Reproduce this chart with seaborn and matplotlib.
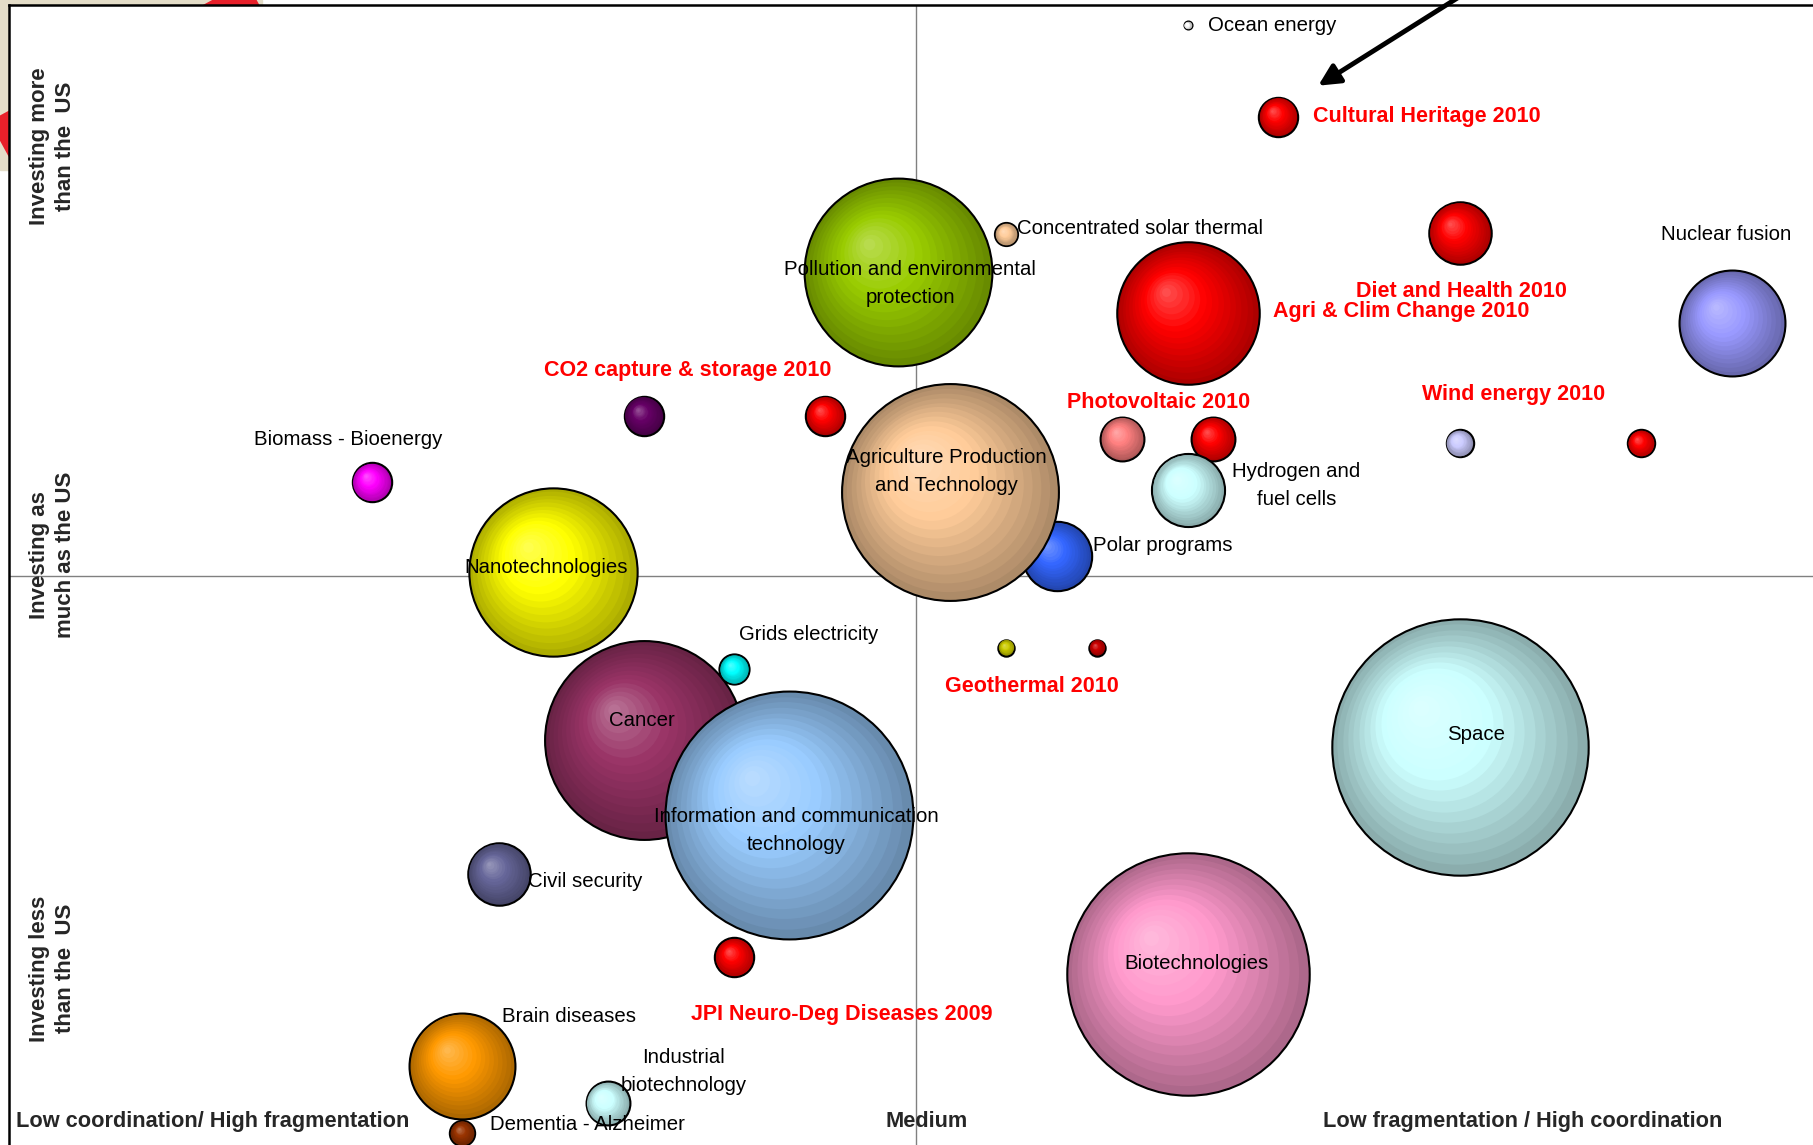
import numpy as np
import pandas as pd
import seaborn as sns
import matplotlib.pyplot as plt
from matplotlib.colors import to_rgb
from matplotlib.lines import Line2D
from matplotlib.patches import Rectangle
from matplotlib.transforms import ScaledTranslation

sns.set_style('white')
plt.rcParams['font.family'] = ['Liberation Sans', 'DejaVu Sans']

# bubbles, in drawing order (later ones sit on top)
names = ["Ocean energy", "Cultural Heritage", "Pollution", "Concentrated solar",
         "Agri & Clim", "Diet and Health", "Nuclear fusion", "CO2 purple", "CO2 red",
         "Biomass", "Polar programs", "Agri Production", "PV salmon", "PV red",
         "Hydrogen", "Wind lavender", "Wind red", "Cancer", "Nanotechnologies",
         "Grids", "ICT", "Geo yellow", "Geo red", "Space", "Civil security",
         "JPI Neuro", "Biotechnologies", "Brain diseases", "Industrial biotech",
         "Dementia"]
coordination = [65, 70, 49, 55, 65, 80, 95, 35, 45, 20, 57.8, 51.9, 61.4, 66.4,
                65, 80, 90, 35, 30, 40, 43, 55, 60, 80, 27, 40, 65, 25, 33, 25]
investment = [98.2, 90.2, 76.6, 79.9, 73.0, 80.0, 72.1, 64.0, 64.0, 58.2, 51.7, 57.3,
              62.0, 62.0, 57.5, 61.6, 61.6, 35.6, 50.3, 41.8, 29.0, 43.7, 43.7, 35.0,
              23.9, 16.6, 15.1, 7.1, 3.8, 1.2]
budget = [0.12, 2.9, 66, 1.0, 38, 7.3, 21, 2.9, 2.9, 2.9, 9, 88, 3.6, 3.6, 10, 1.4,
          1.4, 74, 53, 1.7, 115, 0.5, 0.5, 123, 7.3, 2.9, 110, 21, 3.6, 1.2]
colors = ["#FFFFFF", "#FF0000", "#99CC00", "#FFCC99", "#FF0000", "#FF0000", "#9999FF",
          "#660066", "#FF0000", "#FF00FF", "#3366FF", "#FFCC99", "#FF8080", "#FF0000",
          "#CCFFFF", "#CCCCFF", "#FF0000", "#993366", "#FFFF00", "#00FFFF", "#99CCFF",
          "#CCCC00", "#CC0000", "#CCFFFF", "#666699", "#FF0000", "#FF99CC", "#FF9900",
          "#CCFFFF", "#993300"]

df = pd.DataFrame({"name": names, "x": coordination, "y": investment,
                   "budget": budget, "color": colors})

# labels: text, x, y, alignment, red/bold
labels = [
    ("Ocean energy", 66.1, 98.2, "left", False),
    ("Cultural Heritage 2010", 71.9, 90.2, "left", True),
    ("Pollution and environmental\nprotection", 49.7, 75.6, "center", False),
    ("Concentrated solar thermal", 55.6, 80.4, "left", False),
    ("Diet and Health 2010", 80.1, 74.9, "center", True),
    ("Agri & Clim Change 2010", 76.8, 73.1, "center", True),
    ("Nuclear fusion", 94.7, 79.9, "center", False),
    ("CO2 capture & storage 2010", 37.4, 68.0, "center", True),
    ("Photovoltaic 2010", 63.4, 65.2, "center", True),
    ("Wind energy 2010", 83.0, 65.9, "center", True),
    ("Biomass - Bioenergy", 18.7, 61.9, "center", False),
    ("Agriculture Production\nand Technology", 51.7, 59.1, "center", False),
    ("Hydrogen and\nfuel cells", 71.0, 57.9, "center", False),
    ("Polar programs", 59.8, 52.6, "left", False),
    ("Nanotechnologies", 29.6, 50.7, "center", False),
    ("Grids electricity", 44.1, 44.8, "center", False),
    ("Geothermal 2010", 56.4, 40.3, "center", True),
    ("Cancer", 34.9, 37.3, "center", False),
    ("Space", 80.9, 36.1, "center", False),
    ("Information and communication\ntechnology", 43.4, 27.7, "center", False),
    ("Civil security", 28.6, 23.2, "left", False),
    ("Biotechnologies", 65.5, 16.0, "center", False),
    ("JPI Neuro-Deg Diseases 2009", 45.9, 11.6, "center", True),
    ("Brain diseases", 30.9, 11.4, "center", False),
    ("Industrial\nbiotechnology", 37.2, 6.6, "center", False),
    ("Dementia - Alzheimer", 31.9, 1.9, "center", False),
]
x_labels = [("Low coordination/ High fragmentation", 11.2),
            ("Medium", 50.6),
            ("Low fragmentation / High coordination", 83.5)]
y_labels = [("Investing more\nthan the  US", 87.6),
            ("Investing as\nmuch as the US", 51.8),
            ("Investing less\nthan the  US", 15.6)]

SIZE_SCALE = 277  # marker area (pt^2) per budget unit

W, H = 1813, 1145
fig = plt.figure(figsize=(W / 100, H / 100), dpi=100)
ax = fig.add_axes([9.25 / W, 0, 1 - 9.25 / W, 1 - 4.6 / H])
ax.set_xlim(0, 99.49)
ax.set_ylim(0.14, 100)
ax.set_xticks([])
ax.set_yticks([])
for side in ["right", "bottom"]:
    ax.spines[side].set_visible(False)
for side in ["left", "top"]:
    ax.spines[side].set_color("black")
    ax.spines[side].set_linewidth(1.8)

ax.axvline(50, color="#808080", lw=1, zorder=1)
ax.axhline(50, color="#808080", lw=1, zorder=1)

# backdrop of the slide at the top-left corner
fig.add_artist(Rectangle((0, 1 - 170 / H), 262 / W, 170 / H,
                         transform=fig.transFigure, color="#E4DDC8", zorder=-2))
fig.add_artist(Line2D([280 / W, -25 / W], [1 + 14 / H, 1 - 152 / H],
                      transform=fig.transFigure, color="#E8202A", lw=29,
                      zorder=-1, solid_capstyle="butt"))

n_layers = 16
for i, row in df.iterrows():
    base = np.array(to_rgb(row.color))
    dark = base * 0.68
    light = base + (1 - base) * 0.35
    s = row.budget * SIZE_SCALE
    z = 2 + i * 0.01
    sns.scatterplot(x=[row.x], y=[row.y], s=s, color=dark, edgecolor="black",
                    linewidth=1.5, ax=ax, zorder=z, legend=False)
    r_pts = np.sqrt(s) / 2
    for k in range(1, n_layers):
        f = 1 - k / n_layers
        t = k / n_layers
        if t < 0.55:
            col = dark + (base - dark) * (t / 0.55)
        else:
            col = base + (light - base) * ((t - 0.55) / 0.45)
        shift = (1 - f) * 0.32 * r_pts / 72
        tr = ax.transData + ScaledTranslation(-shift, shift, fig.dpi_scale_trans)
        ax.scatter([row.x], [row.y], s=(2 * f * r_pts) ** 2, color=col,
                   linewidths=0, transform=tr, zorder=z + k * 0.0005)

for text, x, y, ha, red in labels:
    ax.text(x, y, text, ha=ha, va="center",
            fontsize=15.5 if red else 14.7, linespacing=1.6,
            color="#FF0000" if red else "black",
            fontweight="bold" if red else "normal", zorder=10)

for text, x in x_labels:
    ax.text(x, 2.2, text, ha="center", va="center", fontsize=15.7,
            fontweight="bold", zorder=10)

for text, y in y_labels:
    ax.text(2.4, y, text, ha="center", va="center", rotation=90, fontsize=16,
            fontweight="bold", linespacing=1.3, zorder=10)

ax.annotate("", xy=(72.2, 92.9), xytext=(79.9, 100.6), annotation_clip=False,
            arrowprops=dict(arrowstyle="-|>", lw=3.5, color="black",
                            mutation_scale=32, shrinkA=0, shrinkB=0))

plt.savefig("out.png", dpi=100)
